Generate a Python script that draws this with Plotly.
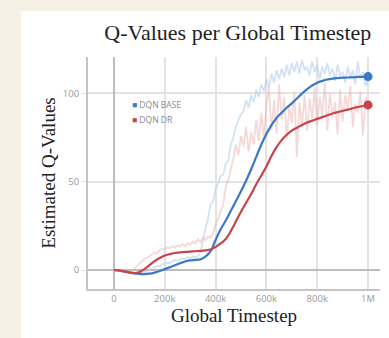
import plotly.graph_objects as go

# Global timesteps (thousands) for the raw and smoothed series
steps_raw_k = list(range(0, 1001, 10))
steps_smooth_k = list(range(0, 1001, 20))

# Raw estimated Q-values, DQN BASE
base_raw = [
    0, -0.2, -0.5, -0.8, -1.2, -1.5, -1.9, -2.2, -2.4, -2.3,
    -2.0, -1.8, -1.2, -0.8, 0.2, 0.6, 1.5, 2.4, 2.0, 3.1,
    3.6, 4.2, 3.9, 5.0, 5.8, 5.2, 6.1, 6.6, 6.0, 7.2,
    6.8, 7.5, 7.0, 7.8, 9.5, 17, 23, 29, 37, 39,
    46, 49, 53, 54, 60, 62, 71, 75, 81, 85,
    88, 90, 96, 92, 99, 95, 102, 98, 105, 101,
    108, 103, 111, 106, 113, 108, 114, 109, 116, 110,
    117, 112, 118, 111, 119, 113, 115, 110, 118, 112,
    116, 108, 115, 111, 117, 110, 114, 107, 116, 110,
    112, 106, 115, 109, 113, 105, 118, 108, 112, 104,
    108,
]

# Raw estimated Q-values, DQN DR
dr_raw = [
    0, -0.2, -0.5, -0.9, -1.2, -1.4, -1.2, -0.5, 0.5, 2.0,
    3.5, 5.0, 6.2, 7.0, 7.8, 8.6, 10.0, 9.4, 11.2, 12.0,
    11.5, 12.8, 12.2, 13.5, 12.6, 14.0, 13.2, 14.6, 13.4, 15.2,
    14.1, 16.0, 14.8, 17.5, 15.6, 18.5, 16.8, 19.0, 18.2, 21,
    26, 29, 33, 37, 47, 51, 57, 63, 71, 65,
    76, 70, 81, 67, 78, 71, 85, 73, 89, 75,
    93, 103, 79, 96, 77, 105, 85, 98, 74, 93,
    83, 101, 64, 95, 81, 99, 79, 97, 86, 103,
    82, 98, 87, 106, 79, 100, 86, 95, 77, 102,
    84, 99, 91, 104, 81, 94, 89, 101, 76, 98,
    90,
]

# Smoothed estimated Q-values
base_smooth = [
    0, -0.3, -0.8, -1.3, -1.8, -2.2, -2.3, -2.1, -1.5, -0.6,
    0.5, 1.6, 2.7, 3.8, 4.8, 5.4, 5.7, 6.0, 7.5, 10.5,
    17, 23, 28, 33.5, 39, 44.5, 50.5, 57, 64, 71,
    77, 82, 86, 89, 91.8, 94.3, 97, 99.8, 102.3, 104.4,
    106, 107, 107.8, 108.3, 108.6, 108.8, 108.9, 109, 109.2, 109.3,
    109.4,
]
dr_smooth = [
    0, -0.3, -0.8, -1.4, -1.8, -1.2, 0.5, 2.8, 5, 6.8,
    8.2, 9, 9.6, 10, 10.2, 10.4, 10.6, 10.8, 11.1, 11.6,
    13, 15, 17.5, 22, 27.5, 33, 38, 43, 48.5, 53.5,
    58.5, 64.5, 69.5, 73.5, 76.5, 78.8, 80.5, 82, 83.4, 84.5,
    85.5, 86.5, 87.5, 88.5, 89.3, 90, 90.7, 91.5, 92.2, 92.8,
    93.4,
]

series_names = ["DQN BASE", "DQN DR"]
tick_steps_k = [0, 200, 400, 600, 800, 1000]
tick_labels = ["0", "200k", "400k", "600k", "800k", "1M"]
y_ticks = [0, 50, 100]

BLUE = "#3b78c6"
RED = "#c9434b"
BLUE_RAW = "rgba(180,207,238,0.6)"
RED_RAW = "rgba(236,180,180,0.5)"

x_raw = [s * 1000 for s in steps_raw_k]
x_smooth = [s * 1000 for s in steps_smooth_k]

fig = go.Figure()
fig.add_trace(go.Scatter(x=x_raw, y=base_raw, mode="lines",
                         line=dict(color=BLUE_RAW, width=1.8), showlegend=False))
fig.add_trace(go.Scatter(x=x_raw, y=dr_raw, mode="lines",
                         line=dict(color=RED_RAW, width=1.8), showlegend=False))
fig.add_trace(go.Scatter(x=x_smooth, y=base_smooth, mode="lines", line_shape="spline",
                         line=dict(color=BLUE, width=2.2), showlegend=False))
fig.add_trace(go.Scatter(x=x_smooth, y=dr_smooth, mode="lines", line_shape="spline",
                         line=dict(color=RED, width=2.2), showlegend=False))
# end-point markers
fig.add_trace(go.Scatter(x=[x_smooth[-1]], y=[base_smooth[-1]], mode="markers",
                         marker=dict(color=BLUE, size=9), showlegend=False))
fig.add_trace(go.Scatter(x=[x_smooth[-1]], y=[dr_smooth[-1]], mode="markers",
                         marker=dict(color=RED, size=9), showlegend=False))

# compact legend drawn as text
for i, (name, col) in enumerate(zip(series_names, [BLUE, RED])):
    fig.add_annotation(
        xref="paper", yref="paper", x=0.145, y=0.795 - i * 0.063,
        xanchor="left", yanchor="middle", showarrow=False,
        text=f"<span style='color:{col}'>■</span> {name}",
        font=dict(family="Open Sans, sans-serif", size=8.5, color="#8a8a8a"),
    )

# white card behind the chart
fig.add_shape(type="rect", xref="paper", yref="paper",
              x0=-0.2295, x1=1.04, y0=-0.22, y1=1.198,
              fillcolor="white", line=dict(width=0), layer="below")

serif = "Liberation Serif, Times New Roman, serif"
axis_common = dict(
    showgrid=True, gridcolor="#e3e3e3", gridwidth=1.5,
    zeroline=True, zerolinecolor="#bdbdbd", zerolinewidth=2,
    showline=True, linecolor="#c4c4c4", linewidth=2,
    tickfont=dict(family="Open Sans, sans-serif", size=9.5, color="#9a9a9a"),
    title_font=dict(family=serif, size=19, color="#222"),
)

fig.update_layout(
    width=389, height=338,
    margin=dict(l=88, r=9, t=57, b=49),
    paper_bgcolor="#f7f0e5",
    plot_bgcolor="white",
    title=dict(text="Q-Values per Global Timestep", x=0.513, xanchor="center",
               xref="paper", y=0.905, yanchor="middle",
               font=dict(family=serif, size=22, color="#222")),
    xaxis=dict(axis_common, range=[-102000, 1047000],
               tickvals=[t * 1000 for t in tick_steps_k], ticktext=tick_labels,
               title=dict(text="Global Timestep", standoff=4),
               ticks="", ticklen=0),
    yaxis=dict(axis_common, range=[-10.75, 120.5], tickvals=y_ticks,
               title=dict(text="Estimated Q-Values", standoff=2),
               ticks="outside", ticklen=5, tickcolor="#e3e3e3"),
)

fig.write_html("out.html")
